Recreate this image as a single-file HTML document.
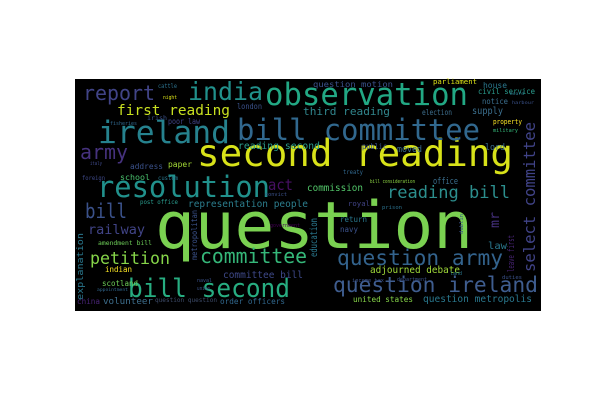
<!DOCTYPE html>
<html><head><meta charset="utf-8">
<style>
html,body{margin:0;padding:0;background:#fff;width:600px;height:400px;overflow:hidden}
svg{display:block}
text{font-family:"DejaVu Sans Mono","Liberation Mono",monospace}
</style></head>
<body>
<svg id="cloud" width="600" height="400" viewBox="0 0 600 400" xmlns="http://www.w3.org/2000/svg">
<rect x="75" y="79" width="466" height="232" fill="#000"/>
<g id="words"></g>
</svg>
<script>
const words = ["question","second reading","observation","bill committee","ireland","resolution","bill second","india","report","first reading","army","bill","committee","question army","question ireland","reading bill","petition","railway","select committee","act","mr","leave first","law","education","metropolitan","adjourned debate","commission","representation people","royal","return","navy","prison","united states","question metropolis","committee bill","order officers","volunteer","china","scotland","explanation","amendment bill","indian","post office","question question","address","paper","school","custom","foreign","italy","poor law","irish","fisheries","london","night","cattle","reading second","question motion","parliament","house","civil service","notice","third reading","election","supply","property","military","public","moved","lord","office","treaty","naval","union","appointment","convict","government","bill consideration","duties","land","income tax","department","dublin","board","harbour"];
const colors = ["#7ad151","#d8e219","#22a884","#31688e","#26828e","#21918c","#27ad81","#21918c","#414487","#c8e020","#46327e","#3b528b","#35b779","#33638d","#3f5d8f","#2c8e8d","#86d549","#414487","#404387","#471063","#46317e","#482475","#2a788e","#2a788e","#3b528b","#a0da39","#52c569","#2c7e8e","#414487","#2a788e","#3b528b","#2c728e","#86d549","#2a788e","#3e4989","#31688e","#3e6f8e","#482475","#6ece58","#2a788e","#6ece58","#fde725","#2a9d8e","#3e4c6a","#3b528b","#a5db36","#4ac16d","#2a788e","#3e4989","#3e4989","#414487","#3b528b","#31688e","#3b528b","#dde318","#2c728e","#2c9c8a","#3b528b","#dde318","#2a788e","#2a9d8e","#3b6f8e","#31868d","#3e6f8e","#3b6f8e","#fde725","#35b779","#3b528b","#3b6f8e","#3b6f8e","#3b6f8e","#31688e","#3b528b","#3b528b","#31688e","#3b528b","#440154","#8fd744","#3b528b","#2a788e","#3b528b","#3b528b","#3b528b","#2a788e","#3b528b"];
// layout: [x, baseline y, width, font-size, rotation]
const layout = [[155,248,318,65,0],[197,166,316,37,0],[265,105,203,31,0],[237,140,243,29,0],[98,143,132,31,0],[97,197,173,29,0],[128,297,162,26,0],[188,100,75,25,0],[83,100,72,20,0],[117,115,113,14.5,0],[80,159,48,20,0],[85,218,42,20,0],[200,263,107,20,0],[337,265,166,21,0],[333,292,205,21,0],[387,198,123,17,0],[90,264,80,16.6,0],[88,234,57,13.5,0],[535,272,150,15.6,-90],[268,190,25,15,0],[499,228,16,13,-90],[514,272,37,9,-90],[488,249,19,10,0],[317,257,39,10,-90],[197,260,50,8,-90],[370,273,90,9.3,0],[307,191,56,9.3,0],[188,207,120,9.5,0],[348,206,22,7.3,0],[340,222,27,7.5,0],[340,232,18,7.5,0],[382,209,20,5.5,0],[353,302,60,8.3,0],[423,302,109,9.5,0],[223,278,80,9.5,0],[220,304,65,7.7,0],[103,304,50,9.2,0],[77,304,23,7.7,0],[102,286,36,7.5,0],[83,300,67,9,-90],[98,245,54,6.5,0],[105,272,27,7.5,0],[140,204,38,5.7,0],[155,302,62,6,0],[130,169,33,8,0],[168,167,24,7.5,0],[120,180,30,8,0],[158,180,20,6,0],[82,180,23,6,0],[90,165,12,5,0],[168,124,32,8,0],[147,120,20,6.5,0],[110,125,27,5.5,0],[237,109,25,8,0],[163,99,14,5.5,0],[158,88,19,6,0],[238,149,82,9.8,0],[313,87,80,8.3,0],[433,84,44,7.3,0],[483,88,24,8,0],[478,94,57,8,0],[482,104,26,8,0],[303,115,87,11,0],[422,115,30,7.5,0],[472,114,31,10,0],[493,124,29,7,0],[493,132,25,5.5,0],[362,149,25,8,0],[397,152,25,8.5,0],[485,150,20,9,0],[433,184,25,8.5,0],[343,174,20,6,0],[197,282,15,5,0],[197,290,13,5,0],[97,291,31,4.5,0],[265,196,22,5,0],[270,227,30,5,0],[370,183,45,5,0],[502,279,20,5,0],[450,275,12,5,0],[352,282,32,5,0],[397,281,30,5,0],[463,234,20,5,-90],[510,95,14,4.5,0],[512,104,22,4.5,0]];
const g = document.getElementById('words');
const NS = 'http://www.w3.org/2000/svg';
words.forEach(function(w, i){
  const L = layout[i];
  const t = document.createElementNS(NS, 'text');
  
  
  t.setAttribute('x', L[0]);
  t.setAttribute('y', L[1]);
  t.setAttribute('font-size', L[3]);
  t.setAttribute('fill', colors[i]);
  t.setAttribute('textLength', L[2]);
  t.setAttribute('lengthAdjust', 'spacingAndGlyphs');
  if (L[4]) t.setAttribute('transform', 'rotate(' + L[4] + ' ' + L[0] + ' ' + L[1] + ')');
  t.textContent = w;
  g.appendChild(t);
});
</script>
</body></html>
